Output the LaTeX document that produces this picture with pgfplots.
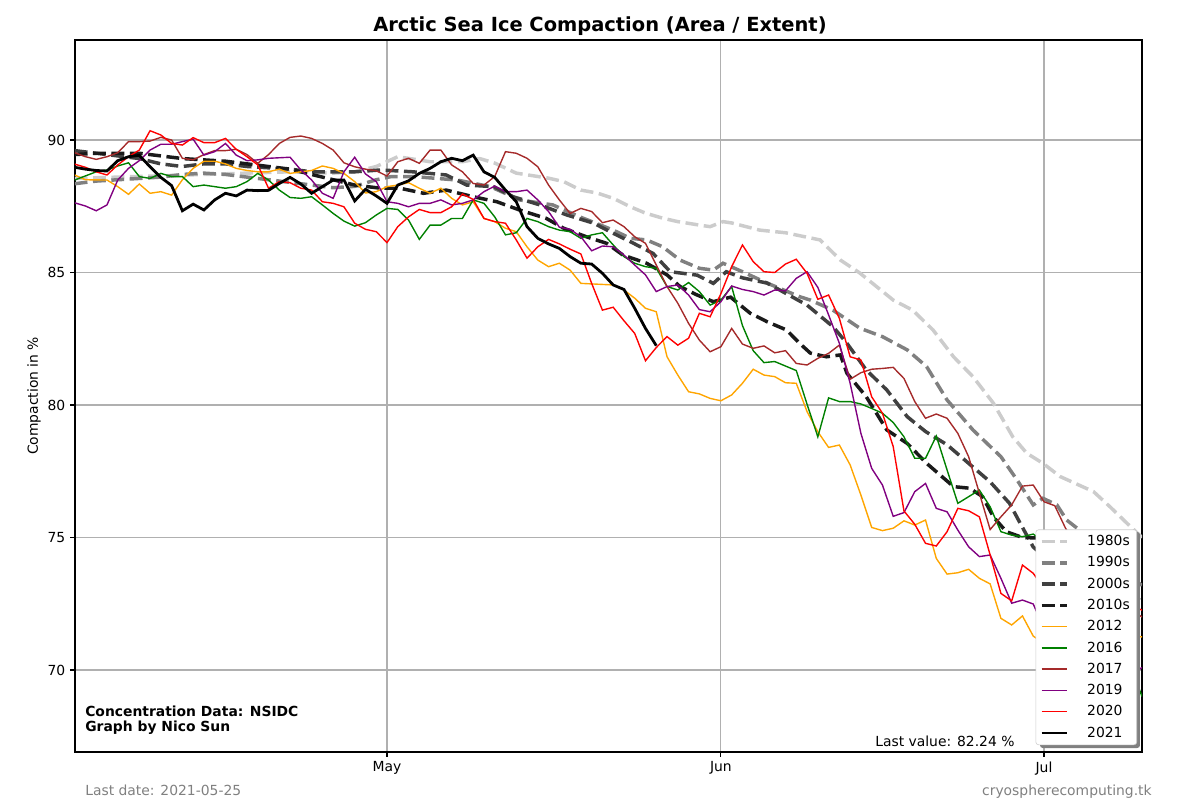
\documentclass[border=0pt]{standalone}
\usepackage{fontspec}
\setmainfont{DejaVu Sans}
\usepackage{pgfplots}
\pgfplotsset{compat=1.18}
\definecolor{c80}{HTML}{CCCCCC}
\definecolor{c90}{HTML}{808080}
\definecolor{c00}{HTML}{404040}
\definecolor{c10}{HTML}{1A1A1A}
\definecolor{c12}{HTML}{FFA500}
\definecolor{c16}{HTML}{008000}
\definecolor{c17}{HTML}{A52A2A}
\definecolor{c19}{HTML}{800080}
\definecolor{c20}{HTML}{FF0000}
\definecolor{gridc}{HTML}{B0B0B0}
\definecolor{txtgray}{HTML}{808080}
\begin{document}
\begin{tikzpicture}
\begin{axis}[name=ax, at={(0,0)}, anchor=south west, scale only axis,
 width=768.24pt, height=512.64pt,
 xmin=92.03, xmax=191.1, ymin=66.906, ymax=93.774,
 xtick={121,152,182}, xticklabels={May,Jun,Jul},
 ytick={70,75,80,85,90},
 grid=major, major grid style={draw=gridc, line width=0.8pt},
 tick align=outside, tick pos=left, major tick length=3.5pt,
 every tick/.style={black, line width=0.8pt},
 axis line style={line width=0.8pt},
 tick label style={font=\fontsize{10}{12}\selectfont},
 /pgf/number format/assume math mode=true,
 clip mode=individual,
 legend cell align=left,
 legend image code/.code={\draw[#1] (0pt,0pt) -- (18pt,0pt);},
 legend style={at={(0.99531,0.00975)}, anchor=south east,
   font=\fontsize{10}{12}\selectfont, fill=white, draw=black!20, rounded corners=2pt,
   row sep=2.4pt, /tikz/every odd column/.append style={column sep=11.5pt}},
]
% 1980s
\addplot[c80, line width=2.5pt, dash pattern=on 9.25pt off 4pt] coordinates {
(92,88.55) (96,88.6) (100,88.65) (104,88.7) (108,88.75) (112,88.8) (116,88.75) (118,88.8) (120,89.0) (122,89.37) (125,89.18) (128,89.18) (129.6,89.3) (131,89.13) (133,88.75) (136,88.56) (137.4,88.43) (139,88.11) (140.5,88.0) (142,87.8) (143.6,87.48) (145,87.24) (146.6,87.05) (148,86.92) (150,86.79) (151,86.73) (152.2,86.92) (153,86.87) (155.6,86.6) (158,86.5) (161.2,86.23) (163.1,85.47) (164.9,84.98) (168,83.96) (169.8,83.58) (171.7,82.83) (173.6,81.82) (175.4,81.07) (177.3,80.07) (179.1,78.8) (180.4,78.18) (181.9,77.8) (183.5,77.3) (186.6,76.73) (188.1,76.17) (189.7,75.54) (191.1,75.0)
};
\addlegendentry{1980s}
% 1990s
\addplot[c90, line width=2.5pt, dash pattern=on 9.25pt off 4pt] coordinates {
(92,88.35) (94,88.45) (96,88.5) (98,88.55) (100,88.6) (102,88.7) (104,88.75) (106,88.7) (108,88.6) (110,88.5) (112,88.4) (114,88.3) (116,88.2) (118,88.25) (120,88.5) (121.4,88.62) (123.5,88.62) (127.5,88.49) (130.6,88.24) (133.3,87.74) (136.4,87.55) (138.9,87.1) (142,86.6) (143.6,86.29) (145.1,86.23) (146.6,85.97) (148.2,85.47) (150,85.16) (151.3,85.09) (152.2,85.35) (154,85.03) (156.3,84.6) (159.3,84.09) (160.3,83.96) (162.4,83.58) (164.9,82.9) (167,82.58) (169.3,82.08) (171.1,81.45) (173,80.19) (175.4,79.06) (178,78.05) (179.5,77.17) (181,76.23) (181.9,76.48) (183.2,76.23) (184.1,75.66) (185.3,75.28) (188,74.2) (190.7,73.3) (191.1,73.2)
};
\addlegendentry{1990s}
% 2000s
\addplot[c00, line width=2.5pt, dash pattern=on 9.25pt off 4pt] coordinates {
(92,89.6) (94,89.5) (96,89.4) (98,89.3) (100,89.1) (102,89.0) (104,89.1) (106,89.1) (108,89.0) (110,88.95) (112,88.9) (114,88.8) (116,88.8) (118,88.8) (120.4,88.87) (123.4,88.8) (126.5,88.68) (128.4,88.3) (130.9,88.24) (132.7,87.86) (135.2,87.55) (137.7,87.17) (140.2,86.86) (142,86.48) (143.9,86.1) (145.7,85.72) (147.3,85.03) (149.8,84.9) (151.3,84.59) (152.5,85.03) (154,84.8) (156.3,84.6) (160,83.77) (162.4,82.96) (163.7,82.33) (165.5,81.32) (167.4,80.57) (169.3,79.56) (171,79.0) (173,78.5) (175,77.8) (177,77.1) (178.8,76.29) (179.8,75.53) (181,74.64) (182,74.3) (186,73.5) (191.1,72.6)
};
\addlegendentry{2000s}
% 2010s
\addplot[c10, line width=2.5pt, dash pattern=on 9.25pt off 4pt] coordinates {
(92,89.45) (94,89.5) (96,89.5) (98,89.5) (100,89.4) (102,89.3) (104,89.25) (106,89.2) (108,89.1) (110,89.0) (112,88.9) (114,88.7) (116,88.5) (118,88.3) (120.4,88.18) (122.2,88.18) (124.4,87.99) (126.5,88.11) (129,87.86) (131.2,87.67) (133.3,87.36) (135.8,87.04) (137.4,86.67) (139.5,86.35) (141.4,86.1) (142.9,85.66) (145.1,85.35) (147,84.91) (148.2,84.47) (149.8,84.15) (151.3,83.9) (152.9,84.07) (154.7,83.47) (156.3,83.14) (158.1,82.83) (159.3,82.33) (160.3,81.96) (161.8,81.82) (163.1,81.89) (163.7,81.2) (165.5,80.31) (167.4,79.06) (169.3,78.55) (171.1,77.8) (173.6,76.92) (175.1,76.86) (176.3,76.54) (177.3,75.78) (178.5,75.22) (180,75.0) (181.5,74.98) (182.7,74.4) (186,73.3) (191.1,71.8)
};
\addlegendentry{2010s}
% 2012
\addplot[c12, line width=1pt] coordinates {
(92,88.68) (93,88.5) (95,88.49) (96,88.24) (97,87.95) (98,88.34) (99,87.99) (100,88.05) (101,87.92) (102,88.5) (103,88.93) (104,89.2) (105,89.2) (106,89.1) (107,88.93) (108,88.85) (109,88.8) (110,88.8) (111,88.9) (112,88.74) (113,88.8) (114,88.85) (115,89.02) (116,88.93) (117,88.74) (118,88.43) (119,88.0) (120,88.05) (121,88.24) (122,88.3) (123,88.39) (124,88.18) (125,87.99) (126,88.18) (127,87.8) (128,87.55) (129,87.67) (130,87.04) (131,86.92) (132,86.67) (133,86.54) (134,85.97) (135,85.47) (136,85.22) (137,85.35) (138,85.09) (139,84.59) (140,84.57) (142,84.53) (143,84.34) (144,84.03) (145,83.65) (146,83.52) (147,81.82) (148,81.13) (149,80.5) (150,80.42) (151,80.25) (152,80.16) (153,80.38) (154,80.82) (155,81.35) (156,81.13) (157,81.07) (158,80.84) (159,80.82) (160,79.75) (161,78.99) (162,78.4) (163,78.49) (164,77.74) (165,76.6) (166,75.38) (167,75.26) (168,75.35) (169,75.63) (170,75.47) (171,75.66) (172,74.21) (173,73.62) (174,73.67) (175,73.8) (176,73.46) (177,73.25) (178,71.95) (179,71.7) (180,72.04) (181,71.28) (182,71.0) (184,70.8) (186,71.2) (188,71.3) (190,71.3) (191.1,71.25)
};
\addlegendentry{2012}
% 2016
\addplot[c16, line width=1pt] coordinates {
(92,88.49) (94,88.8) (95,88.87) (96,89.02) (97,89.14) (98,88.62) (99,88.55) (100,88.74) (101,88.62) (102,88.62) (103,88.24) (104,88.3) (105,88.24) (106,88.18) (107,88.24) (108,88.43) (109,88.74) (110,88.49) (111,88.11) (112,87.83) (113,87.8) (114,87.86) (115,87.55) (116,87.23) (117,86.94) (118,86.75) (119,86.88) (120,87.17) (121,87.42) (122,87.38) (123,86.98) (124,86.25) (125,86.79) (126,86.79) (127,87.04) (128,87.04) (129,87.74) (130,87.61) (131,87.1) (132,86.42) (133,86.5) (134,87.04) (135,86.92) (136,86.73) (137,86.6) (138,86.54) (139,86.29) (140,86.42) (141,86.5) (142,86.04) (143,85.6) (144,85.35) (145,85.22) (146,85.16) (147,84.47) (148,84.34) (149,84.62) (150,84.28) (151,83.77) (152,83.96) (153,84.47) (154,83.0) (155,82.05) (156,81.6) (157,81.64) (158,81.47) (159,81.3) (160,80.03) (161,78.8) (162,80.27) (163,80.13) (164,80.13) (165,80.04) (166,79.87) (167,79.69) (168,79.34) (169,78.8) (170,77.99) (171,77.99) (172,78.83) (173,77.55) (174,76.29) (175,76.54) (176,76.79) (177,76.16) (178,75.22) (179,75.09) (180,75.03) (181,75.13) (182,74.84) (184,74.0) (186,72.8) (188,71.8) (190,70.2) (191.1,69.0)
};
\addlegendentry{2016}
% 2017
\addplot[c17, line width=1pt] coordinates {
(92,89.52) (93,89.37) (94,89.27) (95,89.37) (96,89.52) (97,89.94) (98,89.94) (99,89.96) (100,90.1) (101,90.0) (102,89.31) (103,89.25) (104,89.45) (105,89.6) (106,89.6) (107,89.65) (108,89.45) (109,89.12) (110,89.45) (111,89.87) (112,90.1) (113,90.15) (114,90.06) (115,89.87) (116,89.62) (117,89.14) (118,88.99) (119,88.9) (120,88.84) (121,88.64) (122,89.18) (123,89.31) (124,89.12) (125,89.62) (126,89.62) (127,89.06) (128,88.8) (129,88.36) (130,88.3) (131,88.62) (132,89.56) (133,89.5) (134,89.31) (135,88.99) (136,88.3) (137,87.74) (138,87.23) (139,87.42) (140,87.3) (141,86.88) (142,86.98) (143,86.73) (144,86.35) (145,86.1) (146,85.28) (147,84.47) (148,83.84) (149,83.08) (150,82.45) (151,82.01) (152,82.2) (153,82.89) (154,82.3) (155,82.14) (156,82.23) (157,81.97) (158,82.05) (159,81.57) (160,81.51) (161,81.76) (162,81.95) (163,82.26) (164,80.97) (165,81.22) (166,81.35) (167,81.38) (168,81.42) (169,81.0) (170,80.13) (171,79.5) (172,79.66) (173,79.5) (174,78.93) (175,78.05) (176,76.67) (177,75.3) (178,75.78) (179,76.23) (180,76.94) (181,76.98) (182,76.35) (183,76.2) (184,75.35) (186,74.0) (188,73.0) (190,72.3) (191.1,72.0)
};
\addlegendentry{2017}
% 2019
\addplot[c19, line width=1pt] coordinates {
(92,87.63) (93,87.51) (94,87.33) (95,87.55) (96,88.49) (97,88.93) (98,89.22) (99,89.62) (100,89.84) (101,89.84) (102,89.94) (103,90.03) (104,89.43) (105,89.56) (106,89.87) (107,89.43) (108,89.22) (109,89.25) (110,89.31) (111,89.33) (112,89.35) (113,88.87) (114,88.49) (115,87.99) (116,87.8) (117,88.8) (118,89.35) (119,88.72) (120,88.43) (121,87.67) (122,87.61) (123,87.48) (124,87.61) (125,87.61) (126,87.74) (127,87.55) (128,87.61) (129,87.74) (130,88.05) (131,88.26) (132,88.05) (133,88.05) (134,88.11) (135,87.74) (136,87.3) (137,86.71) (138,86.63) (139,86.35) (140,85.82) (141,86.0) (142,85.97) (143,85.66) (144,85.28) (145,84.91) (146,84.28) (147,84.47) (148,84.53) (149,84.15) (150,83.6) (151,83.52) (152,83.9) (153,84.49) (154,84.36) (155,84.28) (156,84.15) (157,84.34) (158,84.31) (159,84.78) (160,85.03) (161,84.44) (162,83.4) (163,82.33) (164,80.82) (165,78.93) (166,77.61) (167,76.98) (168,75.8) (169,75.94) (170,76.73) (171,77.04) (172,76.1) (173,75.97) (174,75.28) (175,74.65) (176,74.28) (177,74.34) (178,73.46) (179,72.52) (180,72.64) (181,72.49) (182,71.57) (184,70.8) (186,70.0) (188,69.6) (190,69.75) (191.1,70.1)
};
\addlegendentry{2019}
% 2020
\addplot[c20, line width=1pt] coordinates {
(92,89.09) (93,88.97) (94,88.8) (95,88.68) (96,89.06) (97,89.37) (98,89.62) (99,90.35) (100,90.19) (101,89.87) (102,89.81) (103,90.09) (104,89.9) (105,89.9) (106,90.06) (107,89.65) (108,89.37) (109,89.06) (110,88.18) (111,88.43) (112,88.39) (113,88.18) (114,88.11) (115,87.67) (116,87.61) (117,87.48) (118,86.86) (119,86.63) (120,86.54) (121,86.13) (122,86.73) (123,87.1) (124,87.38) (125,87.26) (126,87.26) (127,87.48) (128,87.96) (129,87.76) (130,87.04) (131,86.92) (132,86.86) (133,86.23) (134,85.54) (135,85.97) (136,86.25) (137,86.08) (138,85.88) (139,85.7) (140,84.59) (141,83.58) (142,83.69) (143,83.18) (144,82.7) (145,81.67) (146,82.17) (147,82.58) (148,82.26) (149,82.52) (150,83.46) (151,83.33) (152,84.2) (153,85.22) (154,86.04) (155,85.41) (156,85.03) (157,85.0) (158,85.32) (159,85.5) (160,84.97) (161,83.99) (162,84.15) (163,83.27) (164,81.82) (165,81.7) (166,80.31) (167,79.69) (168,78.43) (169,76.0) (170,75.5) (171,74.78) (172,74.68) (173,75.22) (174,76.1) (175,76.01) (176,75.78) (177,74.34) (178,72.89) (179,72.61) (180,73.96) (181,73.65) (182,73.08) (184,72.5) (186,72.6) (188,72.5) (190,72.45) (191.1,72.26)
};
\addlegendentry{2020}
% 2021
\addplot[black, line width=2pt] coordinates {
(92,88.97) (93,88.9) (94,88.85) (95,88.83) (96,89.22) (97,89.37) (98,89.42) (99,88.99) (100,88.59) (101,88.28) (102,87.33) (103,87.58) (104,87.36) (105,87.74) (106,87.99) (107,87.89) (108,88.11) (109,88.09) (110,88.1) (111,88.36) (112,88.59) (113,88.34) (114,87.99) (115,88.24) (116,88.49) (117,88.49) (118,87.7) (119,88.14) (120,87.89) (121,87.61) (122,88.3) (123,88.46) (124,88.74) (125,88.93) (126,89.18) (127,89.31) (128,89.22) (129,89.43) (130,88.8) (131,88.59) (132,88.11) (133,87.67) (134,86.73) (135,86.29) (136,86.08) (137,85.91) (138,85.6) (139,85.35) (140,85.32) (141,84.97) (142,84.53) (143,84.36) (144,83.65) (145,82.89) (146,82.24)
};
\addlegendentry{2021}
% legend shadow
\fill[black!50, rounded corners=2pt] (rel axis cs:0.9044,0.0056) rectangle (rel axis cs:0.9981,0.309);
% texts
\node[anchor=base, inner sep=0pt, font=\bfseries\fontsize{14}{17}\selectfont, yshift=6pt] at (rel axis cs:0.492,1) {Arctic Sea Ice Compaction (Area / Extent)};
\node[xshift=-29.5pt, rotate=90, anchor=center, inner sep=0pt, font=\fontsize{10}{12}\selectfont] at (rel axis cs:0,0.5) {Compaction in \%};
\node[anchor=base west, inner sep=0pt, font=\bfseries\fontsize{10}{12}\selectfont, xshift=7.2pt, yshift=25.3pt] at (rel axis cs:0,0) {Concentration Data: NSIDC};
\node[anchor=base west, inner sep=0pt, font=\bfseries\fontsize{10}{12}\selectfont, xshift=7.2pt, yshift=15.1pt] at (rel axis cs:0,0) {Graph by Nico Sun};
\node[anchor=base west, inner sep=0pt, font=\fontsize{10}{12}\selectfont, xshift=576pt, yshift=4.3pt] at (rel axis cs:0,0) {Last value: 82.24 \%};
\node[anchor=base west, inner sep=0pt, font=\fontsize{10}{12}\selectfont, text=txtgray, xshift=7.2pt, yshift=-31pt] at (rel axis cs:0,0) {Last date: 2021-05-25};
\node[anchor=base east, inner sep=0pt, font=\fontsize{10}{12}\selectfont, text=txtgray, xshift=775.4pt, yshift=-31pt] at (rel axis cs:0,0) {cryospherecomputing.tk};
\end{axis}
\pgfresetboundingbox
\path[use as bounding box] ([xshift=-54pt,yshift=-34.56pt]ax.south west) rectangle ([xshift=41.76pt,yshift=28.8pt]ax.north east);
\end{tikzpicture}
\end{document}
